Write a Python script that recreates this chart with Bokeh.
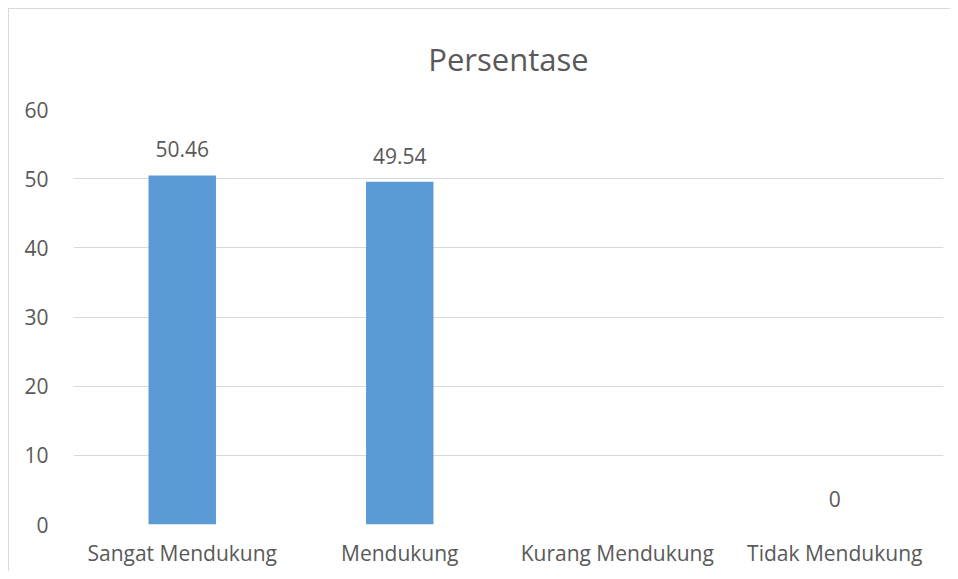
from bokeh.plotting import figure
from bokeh.models import ColumnDataSource, LabelSet, FixedTicker, Title
from bokeh.core.properties import value
from bokeh.embed import file_html
from bokeh.resources import INLINE

categories = ["Sangat Mendukung", "Mendukung", "Kurang Mendukung", "Tidak Mendukung"]
values = [50.46, 49.54, float("nan"), 0]
y_ticks = [0, 10, 20, 30, 40, 50, 60]

TEXT = "#595959"
GRID = "#d9d9d9"
FONT = "Open Sans"

src = ColumnDataSource(dict(cat=categories, val=values,
                            lbl=["" if v != v else ("%g" % v) for v in values]))

p = figure(x_range=categories, y_range=(0, 60), width=942, height=563,
           output_backend="svg", toolbar_location=None,
           min_border_left=64, min_border_right=8, min_border_top=100, min_border_bottom=48)

p.title = Title(text="Persentase", align="center", text_font=FONT, text_font_size="31px",
                text_color=TEXT, text_font_style="normal", standoff=55,
                vertical_align="top")

p.vbar(x="cat", top="val", width=0.31, source=src, color="#5B9BD5", line_color=None)

labels = LabelSet(x="cat", y="val", text="lbl", source=src, text_align="center",
                  text_baseline="bottom", y_offset=18, text_font=value(FONT),
                  text_font_size="21px", text_color=TEXT)
p.add_layout(labels)

p.outline_line_color = None
p.xgrid.grid_line_color = None
p.ygrid.grid_line_color = GRID
p.ygrid.grid_line_width = 1
p.yaxis.ticker = FixedTicker(ticks=y_ticks)
for ax in (p.xaxis, p.yaxis):
    ax.axis_line_color = None
    ax.major_tick_line_color = None
    ax.minor_tick_line_color = None
    ax.major_label_text_font = FONT
    ax.major_label_text_font_size = "21px"
    ax.major_label_text_color = TEXT
p.yaxis.major_label_standoff = 19
p.xaxis.major_label_standoff = 8
p.styles = {"margin": "8px 0 0 8px",
            "border-left": "1px solid #d9d9d9", "border-top": "1px solid #d9d9d9"}

open("out.html", "w").write(file_html(p, INLINE))
